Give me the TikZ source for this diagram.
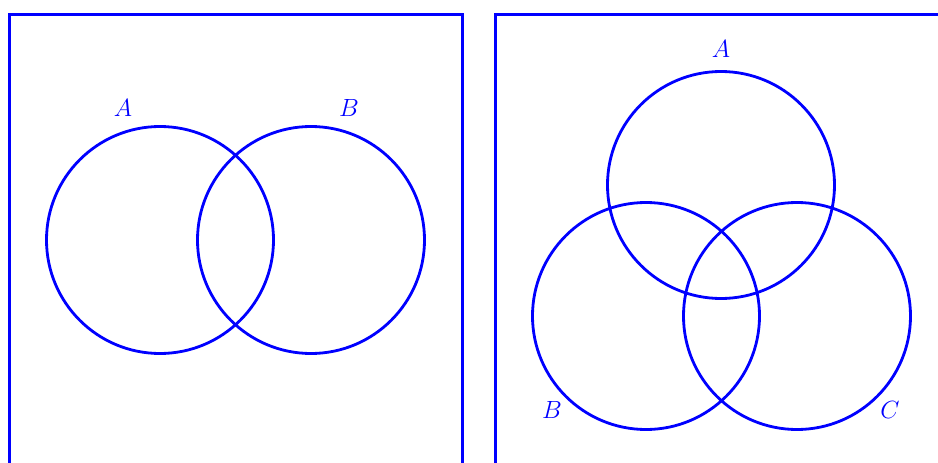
\documentclass[tikz,border=0pt]{standalone}
\begin{document}
\begin{tikzpicture}[x=1pt,y=-1pt,
  venn/.style={draw=blue,line width=2.8pt},
  frame/.style={draw=blue,line width=2.8pt},
  lab/.style={text=blue,font=\fontsize{25}{30}\selectfont,inner sep=0pt}]
\useasboundingbox (0,0) rectangle (938,463);
\begin{scope}
\clip (0,0) rectangle (938,463);
\draw[frame] (9.5,480) -- (9.5,14.5) -- (462.5,14.5) -- (462.5,480);
\draw[frame] (495.5,480) -- (495.5,14.5) -- (960,14.5);
\end{scope}
% left
\draw[venn] (160,240) circle[radius=113.5];
\draw[venn] (311,240) circle[radius=113.5];
\node[lab] (la) at (123,108) {$A$};
\node[lab] (lb) at (349,108) {$B$};
% right
\draw[venn] (721,185) circle[radius=113.5];
\draw[venn] (646,316) circle[radius=113.5];
\draw[venn] (797,316) circle[radius=113.5];
\node[lab] (ra) at (721,49) {$A$};
\node[lab] (rb) at (552,410) {$B$};
\node[lab] (rc) at (890,410) {$C$};
\end{tikzpicture}
\end{document}
